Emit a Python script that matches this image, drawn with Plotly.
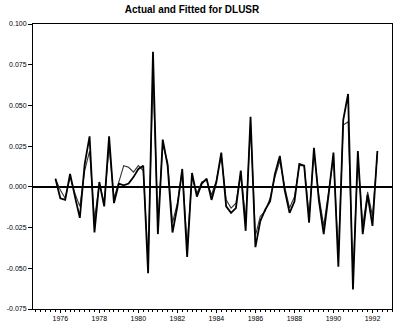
import plotly.graph_objects as go

# Quarterly observations, 1975Q4 .. 1992Q2
start_year = 1975.75
actual = [0.005, -0.007, -0.008, 0.008, -0.006, -0.019, 0.014, 0.031, -0.028, 0.003,
          -0.012, 0.031, -0.010, 0.002, 0.001, 0.002, 0.006, 0.011, 0.013, -0.053,
          0.083, -0.029, 0.029, 0.013, -0.028, -0.012, 0.011, -0.043, 0.0085, -0.006,
          0.002, 0.005, -0.008, 0.003, 0.021, -0.012, -0.016, -0.013, 0.010, -0.027,
          0.043, -0.037, -0.021, -0.014, -0.009, 0.008, 0.019, -0.002, -0.016, -0.009,
          0.014, 0.013, -0.022, 0.024, -0.008, -0.029, -0.005, 0.021, -0.049, 0.041,
          0.057, -0.063, 0.022, -0.029, -0.005, -0.024, 0.022]
fitted = [0.005, -0.002, -0.007, 0.006, -0.004, -0.012, 0.010, 0.022, -0.020, 0.002,
          -0.010, 0.025, -0.007, 0.003, 0.013, 0.012, 0.009, 0.013, 0.010, -0.045,
          0.070, -0.022, 0.026, 0.015, -0.022, -0.010, 0.010, -0.036, 0.006, -0.004,
          0.003, 0.004, -0.005, 0.004, 0.019, -0.008, -0.013, -0.010, 0.008, -0.020,
          0.038, -0.030, -0.018, -0.015, -0.007, 0.006, 0.016, 0.000, -0.013, -0.006,
          0.013, 0.013, -0.018, 0.021, -0.005, -0.024, -0.002, 0.018, -0.042, 0.038,
          0.040, -0.055, 0.018, -0.024, -0.003, -0.018, 0.020]
dates = [start_year + 0.25 * i for i in range(len(actual))]

y_tickvals = [0.100, 0.075, 0.050, 0.025, 0.000, -0.025, -0.050, -0.075]
y_ticktext = ["0.100", "0.075", "0.050", "0.025", "0.000", "-0.025", "-0.050", "-0.075"]
x_tickvals = [1976, 1978, 1980, 1982, 1984, 1986, 1988, 1990, 1992]
x_ticktext = ["1976", "1978", "1980", "1982", "1984", "1986", "1988", "1990", "1992"]

fig = go.Figure()
fig.add_trace(go.Scatter(x=dates, y=fitted, mode="lines", name="Fitted",
                         line=dict(color="#333333", width=1.1)))
fig.add_trace(go.Scatter(x=dates, y=actual, mode="lines", name="Actual",
                         line=dict(color="black", width=1.8)))

fig.update_layout(
    width=405, height=329,
    margin=dict(l=33, r=13, t=24, b=20),
    paper_bgcolor="white", plot_bgcolor="white",
    showlegend=False,
    font=dict(family="Liberation Sans, Arial, sans-serif", color="black"),
    title=dict(text="<b>Actual and Fitted for DLUSR</b>", x=0.443, xref="paper",
               xanchor="center", y=1, yref="container", yanchor="top",
               pad=dict(t=6), font=dict(size=10, color="black")),
)
fig.update_xaxes(range=[1974.6, 1993.0], tickvals=x_tickvals, ticktext=x_ticktext,
                 automargin=False,
                 showgrid=False, zeroline=False, showline=True, mirror=True,
                 linecolor="black", linewidth=1, ticks="outside", ticklen=3,
                 tickcolor="black", tickfont=dict(size=7, color="black"),
                 minor=dict(dtick=0.25, tick0=1976, ticks="outside", ticklen=2,
                            tickcolor="black", showgrid=False))
fig.update_yaxes(range=[-0.075, 0.100], tickvals=y_tickvals, ticktext=y_ticktext,
                 automargin=False,
                 showgrid=False, zeroline=True, zerolinecolor="black", zerolinewidth=1.8,
                 showline=True, mirror=True, linecolor="black", linewidth=1,
                 ticks="outside", ticklen=4, tickcolor="black",
                 tickfont=dict(size=7, color="black"))

fig.write_html("out.html")
